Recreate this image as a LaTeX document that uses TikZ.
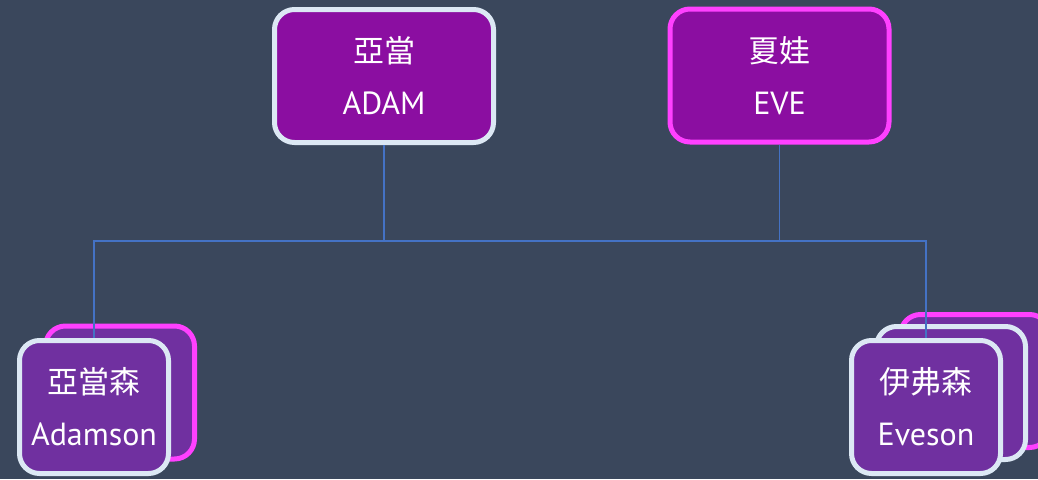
\documentclass[tikz,border=0pt]{standalone}
\usepackage{fontspec}
\setmainfont{PT Sans}
\newfontfamily\cjk{Noto Sans CJK TC}
\newcommand\han{\cjk\fontsize{31}{52}\selectfont}

\definecolor{slate}{RGB}{58,71,92}
\definecolor{plum}{RGB}{139,14,161}
\definecolor{grape}{RGB}{112,48,160}
\definecolor{pink}{RGB}{255,64,255}
\definecolor{frost}{RGB}{220,232,244}
\definecolor{wire}{RGB}{68,114,196}

\begin{document}
\begin{tikzpicture}[x=1pt,y=-1pt,
    box/.style={line width=5pt,rounded corners=20pt,text=white,align=center,
      inner sep=0pt,font=\fontsize{32}{52}\selectfont},
    parent/.style={box,fill=plum,minimum width=219pt,minimum height=133pt},
    child/.style={box,fill=grape,minimum width=149pt,minimum height=133pt},
    link/.style={draw=wire,line width=1.3pt}]
  \useasboundingbox (0,0) rectangle (1038,479);
  \clip (0,0) rectangle (1038,479);
  \fill[slate] (0,0) rectangle (1038,479);
  % top row
  \node[parent,draw=frost] (adam) at (384,76) {{\han 亞當}\\ADAM};
  \node[parent,draw=pink] (eve) at (779.5,75.5) {{\han 夏娃}\\EVE};
  % stacked children, back to front
  \node[child,draw=pink] (adamsonback) at (120,392.5) {};
  \node[child,draw=pink] (evesonback) at (975,381) {};
  \node[child,draw=frost] (evesonmid) at (951,393) {};
  \coordinate (join) at (384,241);
  \draw[link] (adam.south) -- (join);
  \draw[link] (eve.south) |- (join);
  \node[child,draw=frost] (adamson) at (94,407) {{\han 亞當森}\\Adamson};
  \node[child,draw=frost] (eveson) at (926,407) {{\han 伊弗森}\\Eveson};
  \draw[link] (join) -| (adamson.north);
  \draw[link] (join) -| (eveson.north);
\end{tikzpicture}
\end{document}
